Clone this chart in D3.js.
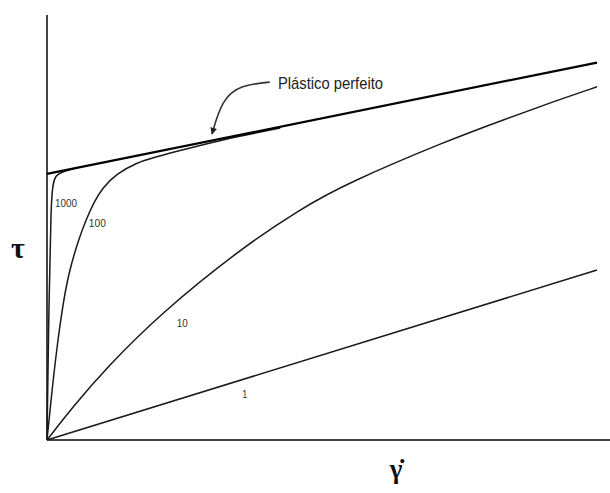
<!DOCTYPE html>
<html><head><meta charset="utf-8">
<script src="https://cdn.jsdelivr.net/npm/d3@7"></script>
<style>html,body{margin:0;padding:0;background:#fff;}svg{display:block;}</style>
</head><body>
<svg id="c" width="610" height="493"></svg>
<script>
// Data (x: shear rate, y: stress; arbitrary units)
const plastic = [[0, 62.6], [100, 88.8]];
const curve1 = [[0, 0], [100, 40]];
const curve10 = [[0,0],[4.7,7.8],[10.9,17.1],[20.5,29.6],[35.1,44.9],[46.0,54.3],[54.5,60.4],[72.7,70.4],[82.9,75.3],[92.7,79.9],[100,83.1]];
const curve100 = [[0,0],[0.73,9.4],[1.73,21.2],[3.0,32.9],[4.09,40.0],[5.73,47.1],[7.09,51.8],[8.55,56.0],[10.07,59.3],[12.62,62.6],[16.18,65.2],[19.8,66.6],[22.4,67.5],[31.5,70.6],[42.4,73.4]];
const curve1000 = [[0,0],[0.36,32.9],[0.73,55.8],[1.09,60.5],[1.6,62.2],[2.5,63.0],[5,63.9]];
const curveLabels = [
  {text: "1000", x: 1.45, y: 55.8, w: 22},
  {text: "100", x: 7.6, y: 51.1, w: 17},
  {text: "10", x: 23.6, y: 27.5, w: 11},
  {text: "1", x: 35.5, y: 10.8, w: 5}
];
const annotationText = {text: "Plástico perfeito", x: 42.0, y: 82.6};
const arrowPts = [[40.5, 84.2], [35.1, 83.5], [31.8, 80.0], [30.0, 72.0]];
const xAxisMax = 102.5, yAxisMax = 100;

const svg = d3.select("#c");
const x = d3.scaleLinear().domain([0, 100]).range([47, 597]);
const y = d3.scaleLinear().domain([0, 100]).range([440, 15]);

// Axes
svg.append("line").attr("x1", x(0)).attr("x2", x(xAxisMax)).attr("y1", y(0)).attr("y2", y(0))
  .attr("stroke", "#444").attr("stroke-width", 2.2);
svg.append("line").attr("x1", x(0)).attr("x2", x(0)).attr("y1", y(0)).attr("y2", y(yAxisMax))
  .attr("stroke", "#444").attr("stroke-width", 2);

const line = d3.line().x(d => x(d[0])).y(d => y(d[1])).curve(d3.curveBasis);

[[curve1, 1.6], [curve10, 1.5], [curve100, 1.5], [curve1000, 1.5]].forEach(([c, w]) => {
  svg.append("path").attr("d", line(c)).attr("fill", "none").attr("stroke", "#1a1a1a").attr("stroke-width", w);
});
svg.append("path").attr("d", line(plastic)).attr("fill", "none").attr("stroke", "#000").attr("stroke-width", 2.2);

// Curve labels
svg.selectAll("text.cl").data(curveLabels).join("text").attr("class", "cl")
  .attr("x", d => x(d.x)).attr("y", d => y(d.y)).attr("dy", "0.35em")
  .attr("font-family", "Liberation Sans, Arial, sans-serif").attr("font-size", 11)
  .attr("fill", "#333")
  .attr("textLength", d => d.w).attr("lengthAdjust", "spacingAndGlyphs")
  .text(d => d.text);

// Annotation
svg.append("text").attr("x", x(annotationText.x)).attr("y", y(annotationText.y))
  .attr("font-family", "Liberation Sans, Arial, sans-serif").attr("font-size", 17)
  .attr("fill", "#222").attr("textLength", 105).attr("lengthAdjust", "spacingAndGlyphs")
  .text(annotationText.text);

const arrowLine = d3.line().x(d => x(d[0])).y(d => y(d[1])).curve(d3.curveBasis);
svg.append("defs").append("marker").attr("id", "ah").attr("viewBox", "0 0 10 10")
  .attr("refX", 9).attr("refY", 5).attr("markerWidth", 7).attr("markerHeight", 7)
  .attr("markerUnits", "userSpaceOnUse").attr("orient", "auto")
  .append("path").attr("d", "M0,0L10,5L0,10Z").attr("fill", "#222");
svg.append("path").attr("d", arrowLine(arrowPts)).attr("fill", "none")
  .attr("stroke", "#333").attr("stroke-width", 1.6).attr("marker-end", "url(#ah)");

// Axis titles
svg.append("text").attr("x", 18).attr("y", 258).attr("text-anchor", "middle")
  .attr("font-family", "Liberation Serif, Times New Roman, serif").attr("font-size", 30).attr("font-weight", "bold")
  .attr("fill", "#111").text("τ");
svg.append("text").attr("x", 396).attr("y", 478).attr("text-anchor", "middle")
  .attr("font-family", "Liberation Serif, Times New Roman, serif").attr("font-size", 27).attr("font-weight", "bold")
  .attr("fill", "#111").text("γ\u0307");
</script>
</body></html>
